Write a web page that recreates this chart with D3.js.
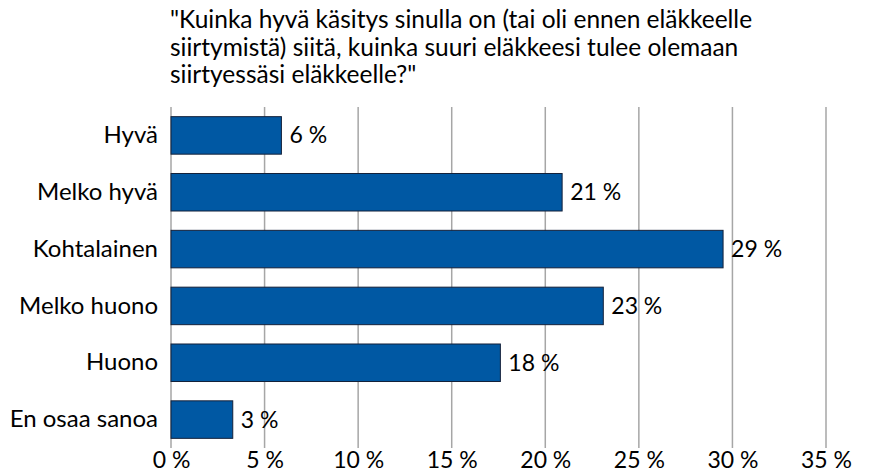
<!DOCTYPE html>
<html>
<head>
<meta charset="utf-8">
<script src="https://cdn.jsdelivr.net/npm/d3@7"></script>
<style>
  body { margin: 0; background: #fff; }
  text { font-family: Lato, "Noto Sans", sans-serif; fill: #000; }
</style>
</head>
<body>
<div id="chart"></div>
<script>
// data
var categories = ["Hyvä", "Melko hyvä", "Kohtalainen", "Melko huono", "Huono", "En osaa sanoa"];
var values = [5.9, 20.9, 29.5, 23.1, 17.6, 3.3];
var valueLabels = ["6 %", "21 %", "29 %", "23 %", "18 %", "3 %"];
var tickValues = [0, 5, 10, 15, 20, 25, 30, 35];
var titleLines = [
  "\"Kuinka hyvä käsitys sinulla on (tai oli ennen eläkkeelle",
  "siirtymistä) siitä, kuinka suuri eläkkeesi tulee olemaan",
  "siirtyessäsi eläkkeelle?\""
];

var W = 871, H = 472;
var margin = {top: 107, right: 45, bottom: 24, left: 171},
    width = W - margin.left - margin.right,
    height = H - margin.top - margin.bottom;

var svg = d3.select("#chart")
  .append("svg")
    .attr("width", W)
    .attr("height", H);

// title
svg.append("g")
  .selectAll("text")
  .data(titleLines)
  .enter().append("text")
    .attr("x", 170)
    .attr("y", function(d, i) { return 28 + i * 27.5; })
    .style("font-size", "24.5px")
    .text(function(d) { return d; });

var g = svg.append("g")
    .attr("transform", "translate(" + margin.left + "," + margin.top + ")");

var x = d3.scaleLinear()
    .domain([0, 35])
    .range([0, 655]);

var y = d3.scaleBand()
    .domain(categories)
    .range([0, height])
    .paddingInner(0.34)
    .paddingOuter(0.17);

// gridlines
g.append("g")
  .selectAll("line")
  .data(tickValues)
  .enter().append("line")
    .attr("x1", function(d) { return x(d); })
    .attr("x2", function(d) { return x(d); })
    .attr("y1", 0)
    .attr("y2", height)
    .attr("stroke", "#a6a6a6")
    .attr("stroke-width", 1.5);

// x axis labels
var xAxis = g.append("g")
    .attr("transform", "translate(0," + height + ")")
    .call(d3.axisBottom(x).tickValues(tickValues).tickSize(0).tickPadding(0)
      .tickFormat(function(d) { return d + " %"; }));
xAxis.select(".domain").remove();
xAxis.selectAll("text")
    .style("font-size", "23px")
    .attr("y", 20)
    .attr("dy", null);

// y axis labels
var yAxis = g.append("g")
    .call(d3.axisLeft(y).tickSize(0).tickPadding(13));
yAxis.select(".domain").remove();
yAxis.selectAll("text").style("font-size", "24px");

// bars
g.append("g")
  .selectAll("rect")
  .data(values)
  .enter().append("rect")
    .attr("x", x(0))
    .attr("y", function(d, i) { return y(categories[i]); })
    .attr("width", function(d) { return x(d) - x(0); })
    .attr("height", y.bandwidth())
    .attr("fill", "#0058a3")
    .attr("stroke", "#14213a")
    .attr("stroke-width", 1);

// value labels
g.append("g")
  .selectAll("text")
  .data(values)
  .enter().append("text")
    .attr("x", function(d) { return x(d) + 8; })
    .attr("y", function(d, i) { return y(categories[i]) + y.bandwidth() / 2; })
    .attr("dy", "0.35em")
    .style("font-size", "23px")
    .text(function(d, i) { return valueLabels[i]; });
</script>
</body>
</html>
